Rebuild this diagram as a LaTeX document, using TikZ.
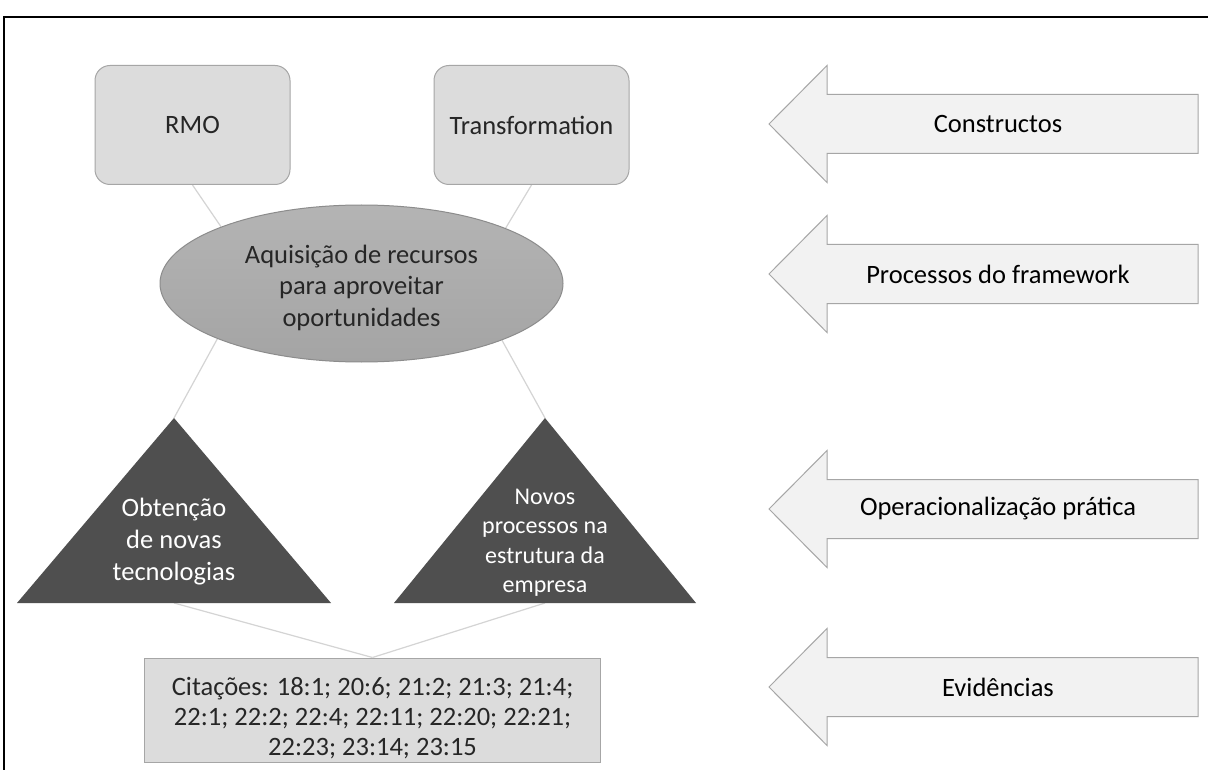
\documentclass[tikz,border=0pt]{standalone}
\usepackage{fontspec}
\setmainfont{Carlito}
\usetikzlibrary{shapes.geometric,backgrounds}

\definecolor{boxfill}{HTML}{DCDCDC}
\definecolor{boxline}{HTML}{A6A6A6}
\definecolor{elltop}{HTML}{B4B4B4}
\definecolor{ellbottom}{HTML}{A4A4A4}
\definecolor{ellline}{HTML}{8C8C8C}
\definecolor{trifill}{HTML}{4F4F4F}
\definecolor{arrfill}{HTML}{F2F2F2}
\definecolor{arrline}{HTML}{A6A6A6}
\definecolor{linkline}{HTML}{D4D4D4}
\definecolor{ink}{HTML}{262626}

\begin{document}
\begin{tikzpicture}[x=1pt,y=-1pt,
  font=\fontsize{26.5}{31.5}\selectfont,
  construct/.style={draw=boxline, fill=boxfill, rounded corners=15pt, line width=1pt,
    minimum width=195pt, minimum height=119pt, text=ink},
  process/.style={ellipse, draw=ellline, top color=elltop, bottom color=ellbottom,
    line width=1pt, inner sep=0pt, minimum width=403pt, minimum height=157pt},
  processtext/.style={align=center, text=ink, inner sep=0pt},
  tritext/.style={text=white, align=center, inner sep=0pt,
    font=\fontsize{26.5}{32}\selectfont},
  tritextsmall/.style={tritext, font=\fontsize{24}{29.5}\selectfont},
  evidence/.style={draw=boxline, fill=boxfill, line width=1pt,
    minimum width=456pt, minimum height=104pt},
  evidencetext/.style={align=center, text=ink, inner sep=0pt,
    font=\fontsize{26.5}{30}\selectfont},
  link/.style={draw=linkline, line width=1.2pt},
  band/.style={draw=arrline, fill=arrfill, line width=1pt},
  bandtext/.style={text=black},
  frameline/.style={line width=2.5pt, draw=black}]

\useasboundingbox (0,0) rectangle (1208,770);

% outer frame (open to the right and bottom)
\draw[frameline] (4,770) -- (4,17) -- (1208,17);

% constructs
\node[construct] (rmo) at (192.5,125) {RMO};
\node[construct] (tr) at (531.5,125) {Transformation};

% framework process
\node[process] (aq) at (361.5,283.5) {};
\node[processtext] (aqtext) at (361.5,287.5) {Aquisição de recursos\\para aproveitar\\oportunidades};

% practical operationalisation (triangles)
\coordinate (t1apex) at (174,418);
\coordinate (t1base) at (174,603);
\fill[trifill] (t1apex) -- (331,603) -- (17,603) -- cycle;
\node[tritext] (t1) at (174,542) {Obtenção\\de novas\\tecnologias};

\coordinate (t2apex) at (545,418);
\coordinate (t2base) at (545,603);
\fill[trifill] (t2apex) -- (696,603) -- (394,603) -- cycle;
\node[tritextsmall] (t2) at (545,542.5) {Novos\\processos na\\estrutura da\\empresa};

% evidence
\node[evidence] (cit) at (372.5,710) {};
\node[evidencetext] (cittext) at (372.5,718) {Citações: 18:1; 20:6; 21:2; 21:3; 21:4;\\22:1; 22:2; 22:4; 22:11; 22:20; 22:21;\\22:23; 23:14; 23:15};

% level arrows on the right
\foreach \cy/\nm/\txt in {124/b1/Constructos,
                         274/b2/Processos do framework,
                         509/b3/Operacionalização prática,
                         687/b4/Evidências} {
  \draw[band] (769,\cy) -- (827,\cy-58.5) -- (827,\cy-29.5) -- (1198,\cy-29.5)
    -- (1198,\cy+29.5) -- (827,\cy+29.5) -- (827,\cy+58.5) -- cycle;
  \node[bandtext] (\nm) at (998,\cy) {\txt};
}

% connectors behind the shapes
\begin{scope}[on background layer]
  \fill[white] (0,0) rectangle (1208,770);
  \draw[link] (rmo.south) -- (aq.158.5);
  \draw[link] (tr.south) -- (aq.21.5);
  \draw[link] (aq.201.5) -- (t1apex);
  \draw[link] (aq.338.5) -- (t2apex);
  \draw[link] (t1base) -- (cit.north);
  \draw[link] (t2base) -- (cit.north);
\end{scope}
\end{tikzpicture}
\end{document}
